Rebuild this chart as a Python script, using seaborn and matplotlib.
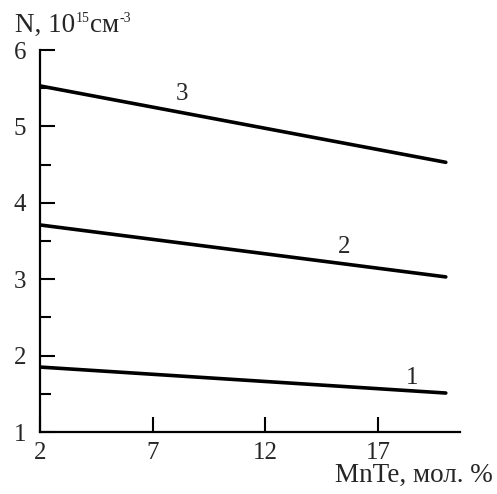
import matplotlib.pyplot as plt
import pandas as pd
import seaborn as sns

# MnTe content, mol. %
X_MNTE = [2, 20]
# N, 10^15 cm^-3 for curves 1..3
N_CURVE_1 = [1.85, 1.51]
N_CURVE_2 = [3.71, 3.03]
N_CURVE_3 = [5.53, 4.53]
CURVE_LABELS = ["1", "2", "3"]
LABEL_POS = [(18.5, 1.71), (15.5, 3.42), (8.3, 5.42)]

X_TICKS = [2, 7, 12, 17]
Y_TICKS = [1, 2, 3, 4, 5, 6]

# y-axis title, split into normal and superscript parts
Y_TITLE_PARTS = [("N, 10", False), ("15", True), ("см", False), ("-3", True)]


def build_frame() -> pd.DataFrame:
    rows = []
    for name, values in zip(CURVE_LABELS, [N_CURVE_1, N_CURVE_2, N_CURVE_3]):
        for x, y in zip(X_MNTE, values):
            rows.append({"x": x, "N": y, "curve": name})
    return pd.DataFrame(rows)


def draw_y_title(fig: plt.Figure) -> None:
    renderer = fig.canvas.get_renderer()
    x_px, base_px = 15, 494 - 32
    for text, sup in Y_TITLE_PARTS:
        t = fig.text(
            x_px / 497,
            (base_px + (10 if sup else 0)) / 494,
            text,
            fontsize=10 if sup else 19.5,
            ha="left",
            va="baseline",
        )
        x_px = t.get_window_extent(renderer).x1 + 0.5


def main() -> None:
    sns.set_theme(style="ticks")
    plt.rcParams["font.family"] = ["Liberation Serif", "DejaVu Serif"]

    df = build_frame()
    fig = plt.figure(figsize=(4.97, 4.94), dpi=100)
    ax = fig.add_axes([40 / 497, 62 / 494, 420 / 497, 382 / 494])

    sns.lineplot(
        data=df,
        x="x",
        y="N",
        units="curve",
        estimator=None,
        color="black",
        linewidth=2.6,
        legend=False,
        ax=ax,
    )

    for text, (tx, ty) in zip(CURVE_LABELS, LABEL_POS):
        ax.text(tx, ty, text, fontsize=18, ha="center", va="center")

    ax.set_xlim(2, 20.63)
    ax.set_ylim(1, 6)
    ax.set_xticks(X_TICKS)
    ax.set_yticks(Y_TICKS)
    ax.set_yticks([1.5, 2.5, 3.5, 4.5, 5.5], minor=True)
    ax.tick_params(axis="both", which="major", direction="in", length=11,
                   width=1.5, labelsize=18, color="black", pad=7)
    ax.tick_params(axis="y", which="minor", direction="in", length=8,
                   width=1.5, color="black")
    ax.tick_params(axis="y", pad=10)
    for side in ["top", "right"]:
        ax.spines[side].set_visible(False)
    for side in ["left", "bottom"]:
        ax.spines[side].set_linewidth(1.6)
        ax.spines[side].set_color("black")

    ax.set_xlabel("")
    ax.set_ylabel("")
    draw_y_title(fig)
    fig.text(493 / 497, 1 - 482 / 494, "MnTe, мол. %", fontsize=19.5,
             va="baseline", ha="right")

    fig.savefig("out.png", dpi=100)
    plt.close(fig)


if __name__ == "__main__":
    main()
